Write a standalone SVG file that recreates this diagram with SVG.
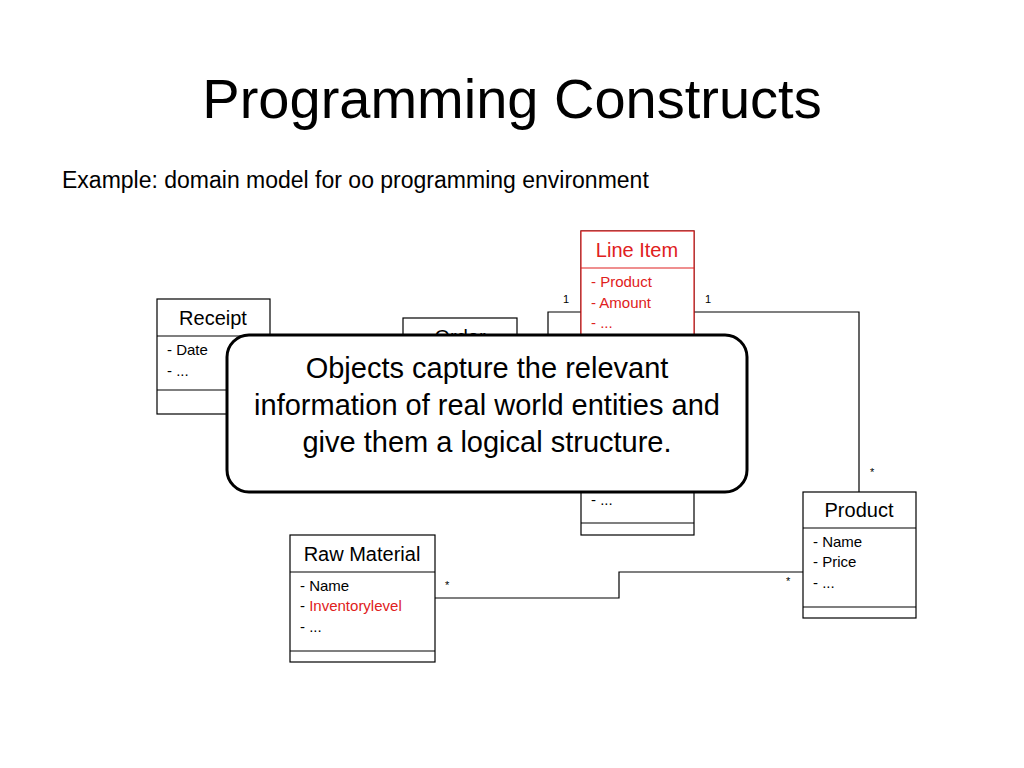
<svg xmlns="http://www.w3.org/2000/svg" width="1024" height="768" viewBox="0 0 1024 768">
<style>
text{font-family:"Liberation Sans",Arial,sans-serif;fill:#000}
.box{fill:#fff;stroke:#000;stroke-width:1.2}
.rbox{fill:#fff;stroke:#e02020;stroke-width:1.2}
.h{font-size:20px;text-anchor:middle}
.a{font-size:15px}
.r{fill:#e02020}
.m{font-size:11px}
.conn{fill:none;stroke:#000;stroke-width:1.2}
</style>
<rect width="1024" height="768" fill="#fff"/>
<text x="512" y="118" font-size="56" text-anchor="middle">Programming Constructs</text>
<text x="62" y="188" font-size="23">Example: domain model for oo programming environment</text>
<g id="connectors">
<polyline class="conn" points="581,312 548,312 548,340"/>
<polyline class="conn" points="694,312 859,312 859,492"/>
<polyline class="conn" points="435,598 619,598 619,572 803,572"/>
<text class="m" x="563" y="303">1</text>
<text class="m" x="705" y="303">1</text>
<text class="m" x="870" y="476">*</text>
<text class="m" x="445" y="589">*</text>
<text class="m" x="786" y="585">*</text>
</g>
<g id="receipt">
<rect class="box" x="157" y="299" width="113" height="115"/>
<line class="conn" x1="157" y1="336" x2="270" y2="336"/>
<line class="conn" x1="157" y1="390" x2="270" y2="390"/>
<text class="h" x="213" y="325">Receipt</text>
<text class="a" x="167" y="355">- Date</text>
<text class="a" x="167" y="376">- ...</text>
</g>
<g id="order">
<rect class="box" x="403" y="318" width="114" height="100"/>
<text class="h" x="460" y="344">Order</text>
</g>
<g id="lineitem">
<rect class="box" x="581" y="231" width="113" height="304"/>
<rect class="rbox" x="581" y="231" width="113" height="120"/>
<line class="conn" x1="581" y1="523" x2="694" y2="523"/>
<line x1="581" y1="268" x2="694" y2="268" stroke="#e02020" stroke-width="1.2"/>
<text class="h r" x="637" y="257">Line Item</text>
<text class="a r" x="591" y="287">- Product</text>
<text class="a r" x="591" y="308">- Amount</text>
<text class="a r" x="591" y="328">- ...</text>
<text class="a" x="591" y="505">- ...</text>
</g>
<g id="product">
<rect class="box" x="803" y="492" width="113" height="126"/>
<line class="conn" x1="803" y1="528" x2="916" y2="528"/>
<line class="conn" x1="803" y1="607" x2="916" y2="607"/>
<text class="h" x="859" y="517">Product</text>
<text class="a" x="813" y="547">- Name</text>
<text class="a" x="813" y="567">- Price</text>
<text class="a" x="813" y="588">- ...</text>
</g>
<g id="rawmaterial">
<rect class="box" x="290" y="535" width="145" height="127"/>
<line class="conn" x1="290" y1="572" x2="435" y2="572"/>
<line class="conn" x1="290" y1="651" x2="435" y2="651"/>
<text class="h" x="362" y="561">Raw Material</text>
<text class="a" x="300" y="591">- Name</text>
<text class="a" x="300" y="611">- <tspan class="r">Inventorylevel</tspan></text>
<text class="a" x="300" y="632">- ...</text>
</g>
<g id="callout">
<rect x="227" y="335" width="520" height="157" rx="22" fill="#fff" stroke="#000" stroke-width="3"/>
<text x="487" y="378" font-size="29" text-anchor="middle">Objects capture the relevant</text>
<text x="487" y="415" font-size="29" text-anchor="middle">information of real world entities and</text>
<text x="487" y="452" font-size="29" text-anchor="middle">give them a logical structure.</text>
</g>
</svg>
